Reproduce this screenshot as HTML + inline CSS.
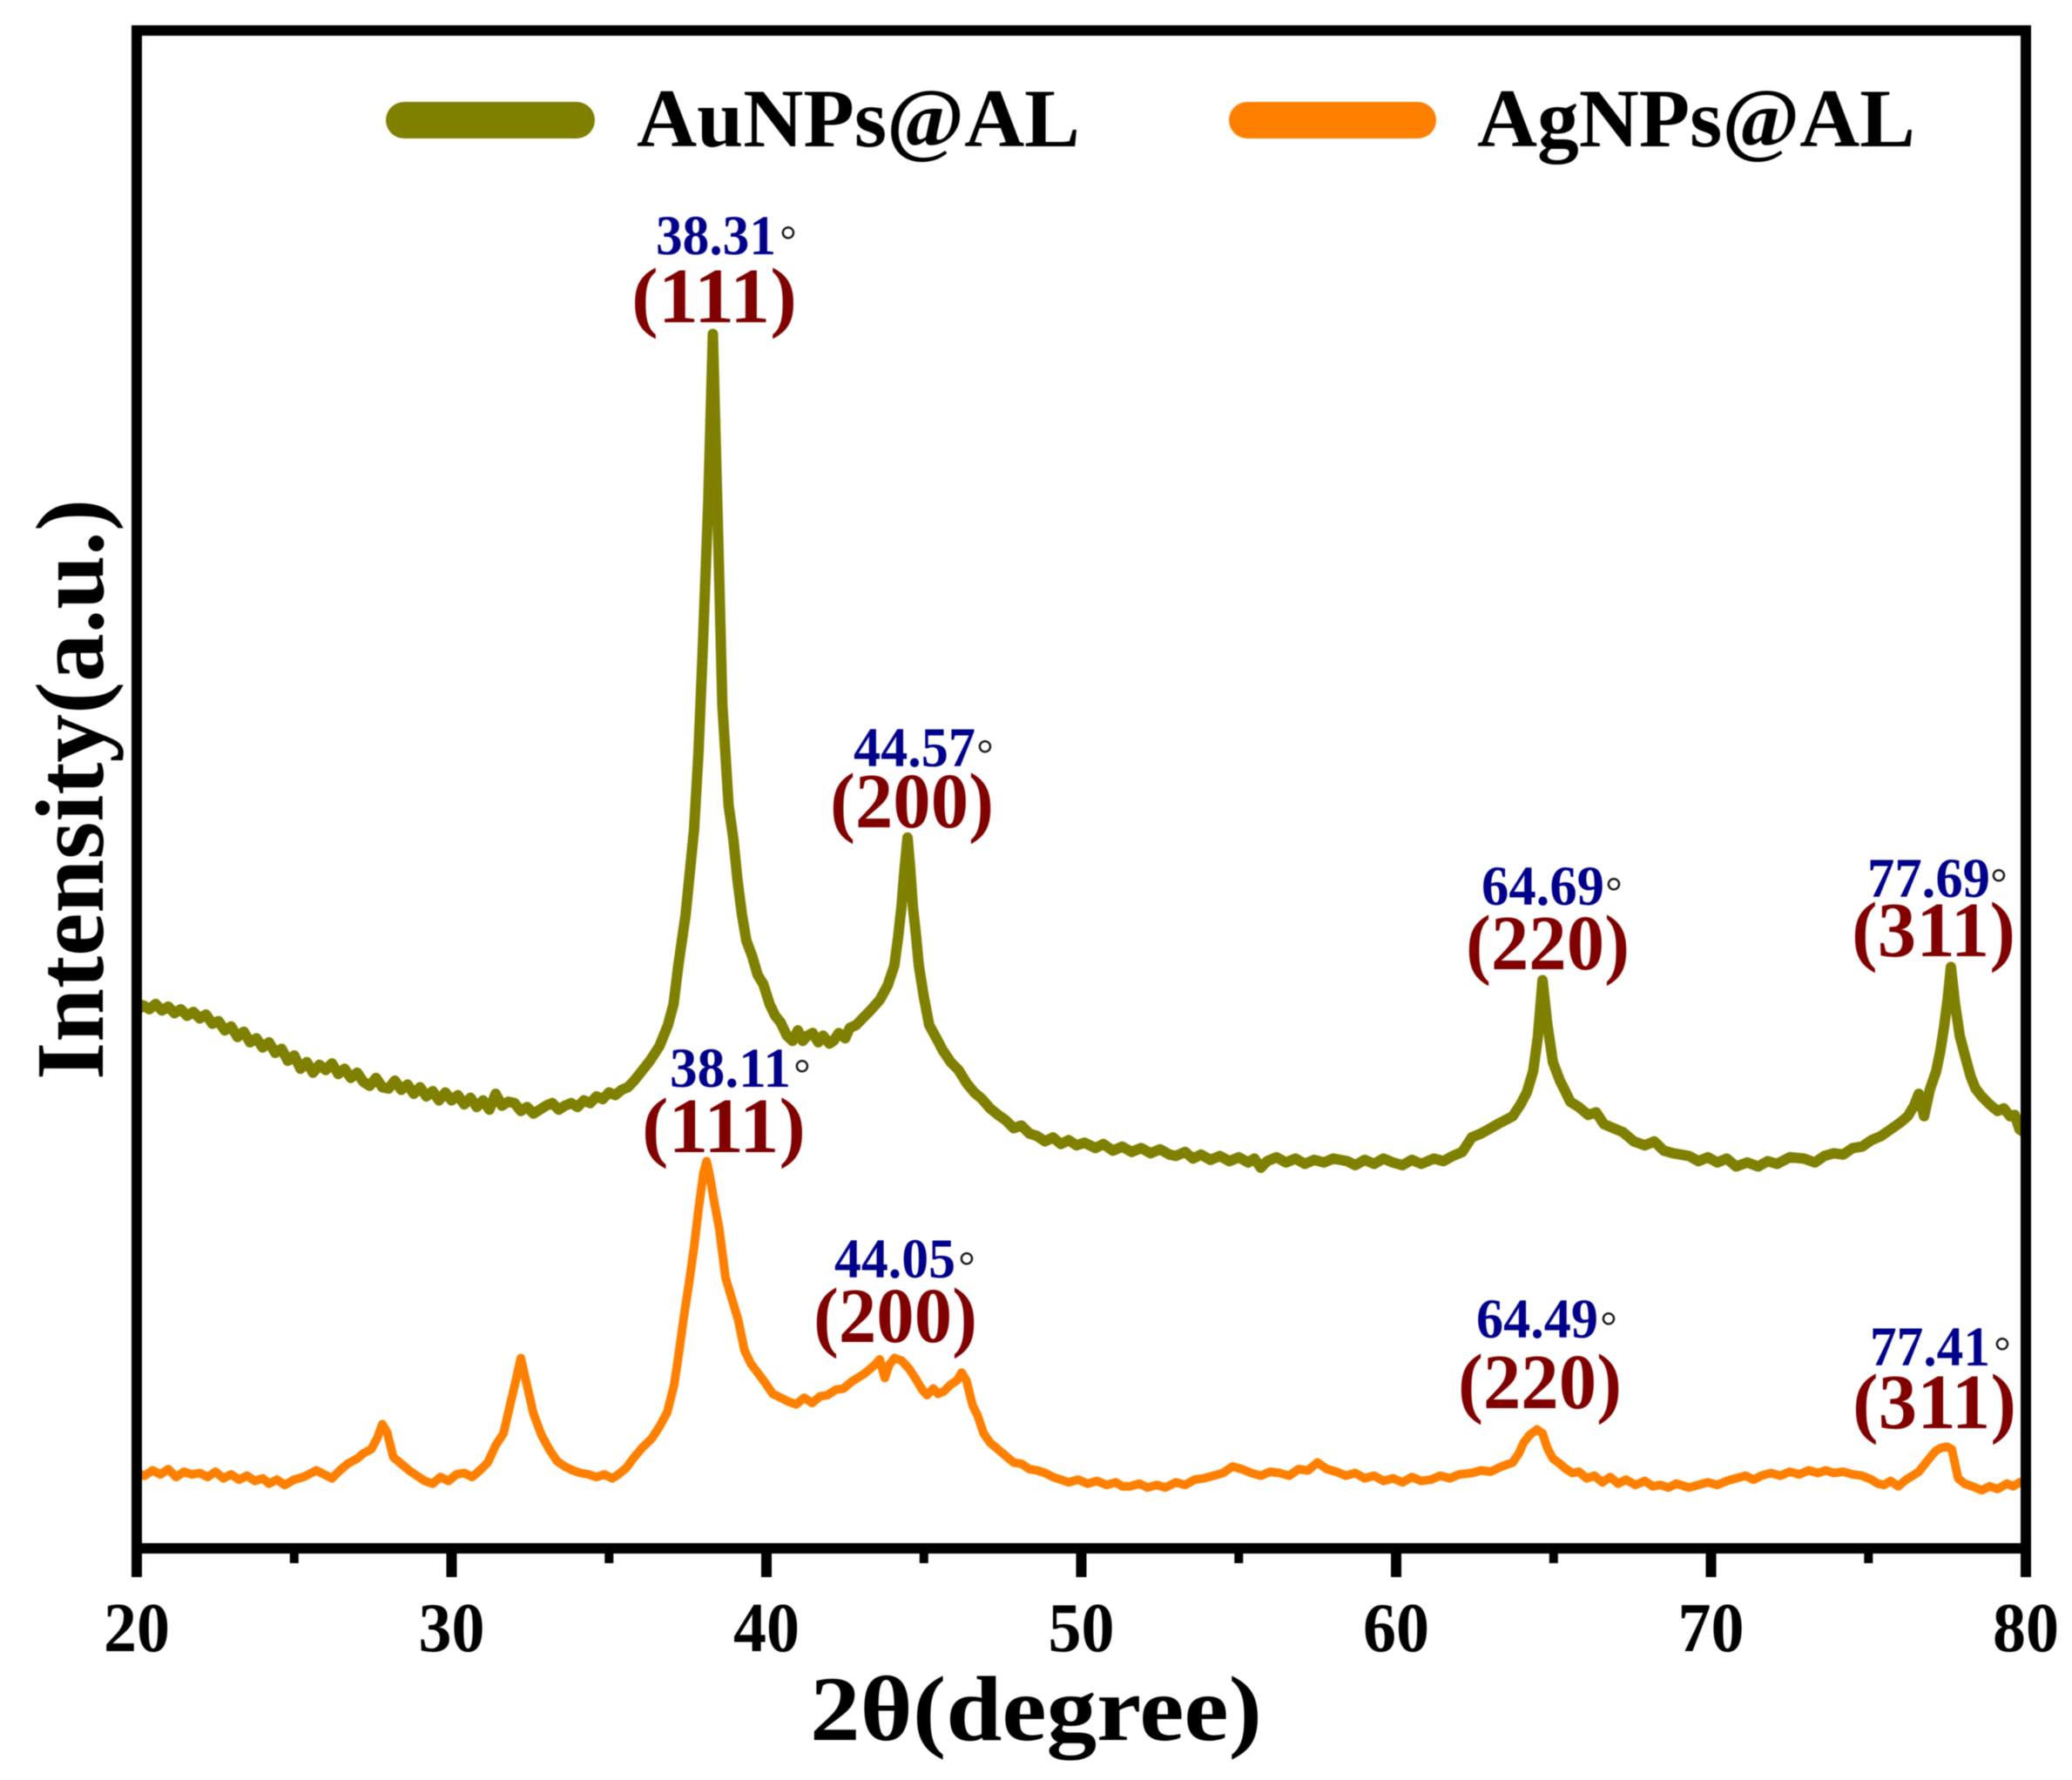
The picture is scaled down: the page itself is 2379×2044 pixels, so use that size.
<!DOCTYPE html>
<html lang="en">
<head>
<meta charset="utf-8">
<title>XRD patterns of AuNPs@AL and AgNPs@AL</title>
<style>
html,body{margin:0;padding:0;background:#fff;}
svg{display:block;filter:blur(0.6px);}
text{font-family:"Liberation Serif",serif;font-weight:bold;}
.val{fill:#00008b;font-size:65px;}
.hkl{fill:#800000;font-size:90px;}
.deg{fill:#111;font-size:48px;font-weight:normal;text-anchor:middle;}
.tick{fill:#000;font-size:80px;text-anchor:middle;}
.leg{fill:#000;font-size:95px;}
</style>
</head>
<body>
<svg id="chart" xmlns="http://www.w3.org/2000/svg" width="2379" height="2044" viewBox="0 0 2379 2044">
  <rect x="0" y="0" width="2379" height="2044" fill="#ffffff"/>
  <g id="series"></g>
  <g fill="#000">
    <rect x="151" y="29" width="2181" height="12"/>
    <rect x="151" y="1772" width="2181" height="12"/>
    <rect x="151" y="29" width="12" height="1782"/>
    <rect x="2320" y="29" width="12" height="1782"/>
  </g>
  <g id="ticks"></g>

  <g>
    <line x1="464" y1="138" x2="662" y2="138" stroke="#808000" stroke-width="42" stroke-linecap="round"/>
    <text class="leg" x="731" y="168" textLength="509" lengthAdjust="spacingAndGlyphs">AuNPs@AL</text>
    <line x1="1432" y1="138" x2="1628" y2="138" stroke="#ff8000" stroke-width="42" stroke-linecap="round"/>
    <text class="leg" x="1696" y="168" textLength="503" lengthAdjust="spacingAndGlyphs">AgNPs@AL</text>
  </g>

  <g>
    <text class="val" x="753" y="292" textLength="138" lengthAdjust="spacingAndGlyphs">38.31</text>
    <text class="deg" x="905" y="292">°</text>
    <text class="hkl" x="725" y="370" textLength="190" lengthAdjust="spacingAndGlyphs">(111)</text>
    <text class="val" x="980" y="880" textLength="140" lengthAdjust="spacingAndGlyphs">44.57</text>
    <text class="deg" x="1131" y="882">°</text>
    <text class="hkl" x="953" y="950" textLength="188" lengthAdjust="spacingAndGlyphs">(200)</text>
    <text class="val" x="1701" y="1039" textLength="141" lengthAdjust="spacingAndGlyphs">64.69</text>
    <text class="deg" x="1853" y="1040">°</text>
    <text class="hkl" x="1683" y="1113" textLength="188" lengthAdjust="spacingAndGlyphs">(220)</text>
    <text class="val" x="2144" y="1030" textLength="141" lengthAdjust="spacingAndGlyphs">77.69</text>
    <text class="deg" x="2295" y="1030">°</text>
    <text class="hkl" x="2126" y="1098" textLength="188" lengthAdjust="spacingAndGlyphs">(311)</text>
  </g>

  <g>
    <text class="val" x="769" y="1248" textLength="139" lengthAdjust="spacingAndGlyphs">38.11</text>
    <text class="deg" x="921" y="1249">°</text>
    <text class="hkl" x="737" y="1323" textLength="188" lengthAdjust="spacingAndGlyphs">(111)</text>
    <text class="val" x="958" y="1467" textLength="139" lengthAdjust="spacingAndGlyphs">44.05</text>
    <text class="deg" x="1110" y="1470">°</text>
    <text class="hkl" x="934" y="1541" textLength="188" lengthAdjust="spacingAndGlyphs">(200)</text>
    <text class="val" x="1695" y="1536" textLength="140" lengthAdjust="spacingAndGlyphs">64.49</text>
    <text class="deg" x="1847" y="1539">°</text>
    <text class="hkl" x="1674" y="1617" textLength="188" lengthAdjust="spacingAndGlyphs">(220)</text>
    <text class="val" x="2147" y="1568" textLength="138" lengthAdjust="spacingAndGlyphs">77.41</text>
    <text class="deg" x="2299" y="1568">°</text>
    <text class="hkl" x="2127" y="1640" textLength="188" lengthAdjust="spacingAndGlyphs">(311)</text>
  </g>

  <text x="930" y="1998" font-size="106" textLength="519" lengthAdjust="spacingAndGlyphs" fill="#000">2θ(degree)</text>
  <text transform="translate(118,1240) rotate(-90)" x="0" y="0" font-size="111" textLength="667" lengthAdjust="spacingAndGlyphs" fill="#000">Intensity(a.u.)</text>
</svg>

<script>
const xMajorTicks = [20, 30, 40, 50, 60, 70, 80];
const xMinorTicks = [25, 35, 45, 55, 65, 75];

const auTheta = [
20.0,20.2,20.4,20.6,20.8,21.0,21.2,21.4,21.6,21.8,
22.0,22.2,22.4,22.6,22.8,23.0,23.2,23.4,23.6,23.8,
24.0,24.2,24.4,24.6,24.8,25.0,25.2,25.4,25.6,25.8,
26.0,26.2,26.4,26.6,26.8,27.0,27.2,27.4,27.6,27.8,
28.0,28.2,28.4,28.6,28.8,29.0,29.2,29.4,29.6,29.8,
30.0,30.2,30.4,30.6,30.8,31.0,31.2,31.4,31.6,31.8,
32.0,32.2,32.4,32.6,32.8,33.0,33.2,33.4,33.6,33.8,
34.0,34.2,34.4,34.6,34.8,35.0,35.2,35.4,35.6,35.8,
36.0,36.3,36.6,36.87,37.05,37.2,37.43,37.7,37.84,37.97,
38.15,38.3,38.48,38.6,38.8,38.95,39.08,39.22,39.36,39.55,
39.72,39.9,40.1,40.28,40.45,40.65,40.83,41.0,41.15,41.3,
41.47,41.65,41.8,42.0,42.13,42.3,42.5,42.65,42.85,43.05,
43.3,43.6,43.85,44.06,44.18,44.29,44.38,44.48,44.56,44.65,
44.75,44.84,45.0,45.17,45.4,45.6,45.85,46.1,46.36,46.6,
46.85,47.1,47.36,47.6,47.85,48.1,48.35,48.6,48.85,49.1,
49.35,49.6,49.85,50.1,50.45,50.7,51.0,51.3,51.6,51.9,
52.2,52.5,52.8,53.0,53.3,53.55,53.8,54.1,54.4,54.7,
55.0,55.3,55.5,55.7,55.9,56.2,56.5,56.8,57.1,57.4,
57.7,58.0,58.45,58.7,59.0,59.3,59.6,59.9,60.2,60.5,
60.8,61.2,61.5,61.8,62.1,62.4,62.7,63.0,63.3,63.7,
63.95,64.15,64.35,64.5,64.65,64.8,64.98,65.2,65.35,65.53,
65.8,66.1,66.35,66.6,66.9,67.2,67.55,67.9,68.2,68.5,
68.8,69.3,69.6,69.9,70.2,70.5,70.8,71.15,71.5,71.8,
72.1,72.5,72.95,73.3,73.6,73.9,74.2,74.5,74.8,75.1,
75.4,75.7,76.0,76.25,76.45,76.6,76.77,76.95,77.15,77.28,
77.4,77.52,77.62,77.75,77.9,78.1,78.25,78.4,78.6,78.85,
79.1,79.3,79.5,79.65,79.8,80.0
];
const auIntensity = [
405,409,406,410,405,408,403,406,401,404,
399,402,395,397,390,393,385,389,381,384,
377,381,373,376,367,371,361,366,358,364,
360,365,357,361,354,358,351,348,354,347,
346,352,345,349,342,347,340,344,337,343,
337,341,334,339,332,337,330,342,333,336,
335,329,332,327,330,333,335,330,333,335,
332,337,335,340,338,343,341,345,347,352,
358,367,378,394,410,439,477,542,599,674,
788,917,750,636,560,535,504,478,458,446,
432,425,410,401,396,386,382,390,382,386,
388,381,386,380,382,388,384,392,394,399,
405,413,424,439,460,484,510,536,515,484,
462,439,415,394,384,375,366,360,350,343,
338,331,326,322,316,318,312,310,306,309,
304,307,303,305,301,304,299,302,298,301,
297,300,296,295,298,293,296,292,295,291,
294,290,293,286,291,294,290,293,289,292,
290,293,291,288,292,289,293,290,288,292,
289,293,291,295,298,309,312,316,320,325,
334,343,359,385,428,395,366,352,345,336,
332,326,328,319,316,313,306,303,306,299,
297,295,291,294,290,293,287,290,287,291,
289,294,293,290,295,297,296,301,302,307,
310,315,320,325,333,342,325,345,359,374,
392,414,438,410,386,368,355,346,340,334,
329,331,325,326,315,312
];

const agTheta = [
20.0,20.25,20.5,20.75,21.0,21.25,21.5,21.75,22.0,22.25,
22.5,22.75,23.0,23.25,23.5,23.75,24.0,24.2,24.45,24.7,
25.0,25.3,25.7,25.95,26.2,26.45,26.7,27.0,27.2,27.45,
27.65,27.8,27.95,28.15,28.4,28.65,28.9,29.15,29.4,29.65,
29.9,30.15,30.4,30.65,30.9,31.15,31.4,31.65,31.9,32.05,
32.2,32.35,32.6,32.85,33.1,33.35,33.6,33.85,34.1,34.35,
34.6,34.85,35.1,35.3,35.55,35.8,36.05,36.35,36.6,36.85,
37.07,37.22,37.37,37.55,37.7,37.85,38.0,38.1,38.2,38.35,
38.5,38.7,38.9,39.1,39.3,39.5,39.75,39.97,40.2,40.45,
40.7,40.95,41.2,41.45,41.7,41.94,42.2,42.45,42.7,42.9,
43.1,43.3,43.45,43.6,43.76,43.9,44.07,44.3,44.53,44.75,
44.95,45.1,45.3,45.45,45.64,45.85,46.05,46.2,46.35,46.55,
46.7,46.9,47.1,47.35,47.6,47.85,48.1,48.35,48.6,48.85,
49.1,49.35,49.6,49.9,50.2,50.5,50.8,51.1,51.3,51.56,
51.85,52.1,52.4,52.67,53.0,53.3,53.6,53.9,54.2,54.5,
54.8,55.1,55.4,55.7,56.0,56.3,56.6,56.9,57.2,57.5,
57.8,58.1,58.4,58.7,59.0,59.3,59.6,59.9,60.2,60.5,
60.8,61.1,61.4,61.7,62.0,62.4,62.7,63.0,63.35,63.7,
63.9,64.05,64.25,64.47,64.65,64.8,64.98,65.2,65.4,65.6,
65.8,66.05,66.3,66.55,66.8,67.05,67.3,67.6,67.9,68.15,
68.4,68.65,68.9,69.3,69.6,69.9,70.2,70.5,70.8,71.1,
71.35,71.6,71.9,72.2,72.5,72.8,73.1,73.4,73.65,73.9,
74.2,74.5,74.8,75.1,75.3,75.5,75.7,75.95,76.2,76.4,
76.6,76.8,77.0,77.15,77.3,77.5,77.65,77.85,78.05,78.3,
78.6,78.85,79.1,79.4,79.6,79.8,80.0
];
const agIntensity = [
55,53,57,54,58,52,56,54,55,52,
56,51,54,50,53,49,51,47,50,46,
50,52,57,54,51,57,62,66,70,73,
82,92,86,67,62,57,53,49,47,52,
49,54,55,52,57,63,76,85,111,126,
142,126,100,84,73,64,60,57,55,54,
52,54,51,54,59,67,74,81,90,101,
122,146,172,200,226,256,282,291,280,259,
240,203,187,171,148,138,130,123,115,112,
109,107,112,108,113,114,118,119,124,127,
130,134,137,141,127,137,142,140,134,126,
118,114,119,115,117,122,125,131,125,106,
99,85,78,73,68,63,62,58,57,55,
52,50,48,50,47,49,46,48,45,45,
47,44,46,44,48,46,50,51,53,55,
60,58,55,53,56,55,53,58,57,63,
58,56,53,55,51,53,49,51,48,52,
49,50,53,51,54,55,57,56,60,63,
70,78,84,88,85,74,66,62,58,55,
56,51,53,48,52,47,50,46,49,45,
46,44,47,44,46,48,46,49,51,53,
50,53,55,53,56,54,57,55,57,55,
56,54,53,50,47,46,49,45,50,53,
56,62,68,72,74,75,73,51,47,45,
42,45,43,47,45,48,46
];

const xDomain = [20, 80];
const yDomain = [0, 1148];
const xRange = [157, 2326];
const yRange = [1775, 33];

function xScale(v) {
  return xRange[0] + (v - xDomain[0]) / (xDomain[1] - xDomain[0]) * (xRange[1] - xRange[0]);
}
function yScale(v) {
  return yRange[0] + (v - yDomain[0]) / (yDomain[1] - yDomain[0]) * (yRange[1] - yRange[0]);
}

const SVGNS = 'http://www.w3.org/2000/svg';

function buildLine(thetas, values) {
  const parts = [];
  for (let i = 0; i < thetas.length; i++) {
    parts.push((i === 0 ? 'M' : 'L') + xScale(thetas[i]).toFixed(1) + ' ' + yScale(values[i]).toFixed(1));
  }
  return parts.join(' ');
}

const seriesLayer = document.getElementById('series');

const auLine = document.createElementNS(SVGNS, 'path');


auLine.setAttribute('d', buildLine(auTheta, auIntensity));
auLine.setAttribute('fill', 'none');
auLine.setAttribute('stroke', '#808000');
auLine.setAttribute('stroke-width', '12');
auLine.setAttribute('stroke-linejoin', 'round');
seriesLayer.appendChild(auLine);

const agLine = document.createElementNS(SVGNS, 'path');


agLine.setAttribute('d', buildLine(agTheta, agIntensity));
agLine.setAttribute('fill', 'none');
agLine.setAttribute('stroke', '#ff8000');
agLine.setAttribute('stroke-width', '10');
agLine.setAttribute('stroke-linejoin', 'round');
seriesLayer.appendChild(agLine);

const tickLayer = document.getElementById('ticks');

xMajorTicks.forEach(function (t) {
  const mark = document.createElementNS(SVGNS, 'rect');
  
  
  mark.setAttribute('x', (xScale(t) - 6).toFixed(1));
  mark.setAttribute('y', '1778');
  mark.setAttribute('width', '12');
  mark.setAttribute('height', '33');
  mark.setAttribute('fill', '#000');
  tickLayer.appendChild(mark);

  const label = document.createElementNS(SVGNS, 'text');
  
  
  label.setAttribute('class', 'tick');
  label.setAttribute('x', xScale(t).toFixed(1));
  label.setAttribute('y', '1896');
  label.setAttribute('textLength', '76');
  label.setAttribute('lengthAdjust', 'spacingAndGlyphs');
  label.textContent = String(t);
  tickLayer.appendChild(label);
});

xMinorTicks.forEach(function (t) {
  const mark = document.createElementNS(SVGNS, 'rect');
  
  
  mark.setAttribute('x', (xScale(t) - 5).toFixed(1));
  mark.setAttribute('y', '1778');
  mark.setAttribute('width', '10');
  mark.setAttribute('height', '17');
  mark.setAttribute('fill', '#000');
  tickLayer.appendChild(mark);
});
</script>
</body>
</html>
